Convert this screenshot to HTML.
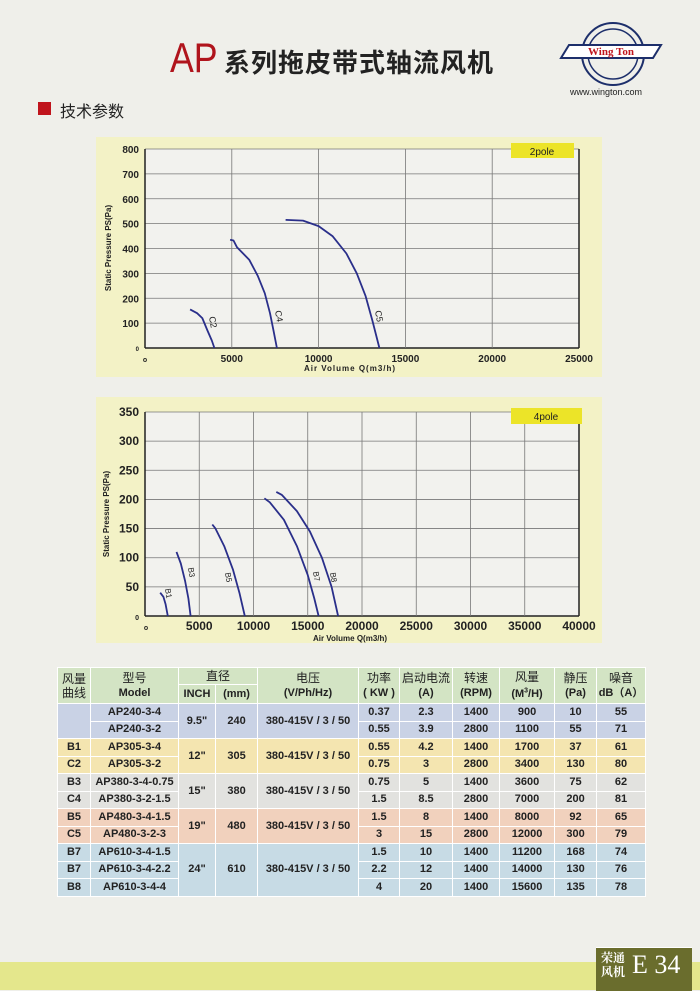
<!DOCTYPE html>
<html><head><meta charset="utf-8"><style>
body{margin:0;width:700px;height:990px;background:#efefea;position:relative;overflow:hidden;font-family:"Liberation Sans","Noto Sans CJK SC",sans-serif}
.abs{position:absolute}
table{border-collapse:collapse;position:absolute;left:57px;top:667px;width:588px;table-layout:fixed;font-family:"Liberation Sans","Noto Sans CJK SC",sans-serif}
td{border:1px solid #fff;text-align:center;font-size:11px;font-weight:bold;color:#222;padding:0;height:16.5px;line-height:11px}
.h td{background:#d3e4c4;font-weight:normal;font-size:12px}
.h td b{font-size:11px}
.g1 td{background:#c9d2e5}.g2 td{background:#f4e5b0}.g3 td{background:#e2e2df}.g4 td{background:#f1d1bd}.g5 td{background:#c7dbe5}
</style></head><body>
<div class="abs" style="left:170px;top:36px;font-size:42px;color:#b0141c;line-height:44px;transform:scaleX(0.85);transform-origin:left">AP</div>
<div class="abs" style="left:224px;top:48px;font-size:26px;font-weight:bold;color:#222;line-height:30px;letter-spacing:1px">系列拖皮带式轴流风机</div>
<svg class="abs" style="left:555px;top:20px" width="110" height="68">
<circle cx="58" cy="34" r="31" fill="none" stroke="#1d2f6b" stroke-width="2"/>
<circle cx="58" cy="34" r="25" fill="none" stroke="#1d2f6b" stroke-width="1.5"/>
<polygon points="6,38 14,25 106,25 98,38" fill="#fff" stroke="#1d2f6b" stroke-width="2"/>
<text x="56" y="35" font-size="11" font-weight="bold" fill="#c0141c" text-anchor="middle" font-family="Liberation Serif">Wing Ton</text></svg>
<div class="abs" style="left:570px;top:87px;font-size:9px;color:#222">www.wington.com</div>
<div class="abs" style="left:38px;top:102px;width:13px;height:13px;background:#c0141c"></div>
<div class="abs" style="left:60px;top:98px;font-size:16px;color:#222">技术参数</div>

<svg class="abs" style="left:0;top:0" width="700" height="660" font-family="Liberation Sans" id="ch">
<rect x="96" y="137" width="506" height="240" fill="#f3f2c6"/>
<rect x="96" y="397" width="506" height="246" fill="#f3f2c6"/>
<rect x="145" y="149" width="434" height="199" fill="#f2f2ee"/>
<rect x="145" y="412" width="434" height="204" fill="#f2f2ee"/>
<g id="g"></g>
<rect x="511" y="143" width="63" height="15" fill="#ece428"/>
<text x="542" y="155" font-size="10" text-anchor="middle" fill="#222">2pole</text>
<rect x="511" y="408" width="71" height="16" fill="#ece428"/>
<text x="546" y="420" font-size="10" text-anchor="middle" fill="#222">4pole</text>
<text transform="translate(111,248) rotate(-90)" font-size="8" font-weight="bold" text-anchor="middle" fill="#222">Static Pressure PS(Pa)</text>
<text transform="translate(109,514) rotate(-90)" font-size="8" font-weight="bold" text-anchor="middle" fill="#222">Static Pressure PS(Pa)</text>
<text x="350" y="371" font-size="8" font-weight="bold" text-anchor="middle" fill="#222" letter-spacing="1">Air Volume Q(m3/h)</text>
<text x="350" y="641" font-size="8" font-weight="bold" text-anchor="middle" fill="#222">Air Volume Q(m3/h)</text>
</svg>
<script>
var g=document.getElementById('g'),s='';
function L(x1,y1,x2,y2,c,w){s+='<line x1="'+x1+'" y1="'+y1+'" x2="'+x2+'" y2="'+y2+'" stroke="'+c+'" stroke-width="'+w+'"/>';}
function T(x,y,t,sz,a){s+='<text x="'+x+'" y="'+y+'" font-size="'+sz+'" font-weight="bold" text-anchor="'+a+'" fill="#222">'+t+'</text>';}
// chart1
for(var i=0;i<=8;i++){var y=348-i*199/8;L(145,y,579,y,i==0?'#222':'#777',i==0?1.5:0.8);T(139,y+4,i==0?'':i*100,i==0?7:10,'end');}
T(139,351,'0',6,'end');
for(var i=0;i<=5;i++){var x=145+i*434/5;L(x,149,x,348,i==0||i==5?'#222':'#777',i==0||i==5?1.5:0.8);T(x+(i==0?0:0),362,i==0?'o':i*5000,i==0?7:10,'middle');}
// chart2
for(var i=0;i<=7;i++){var y=616-i*204/7;L(145,y,579,y,i==0?'#222':'#777',i==0?1.5:0.8);T(139,y+4,i==0?'0':i*50,i==0?7:12,'end');}
for(var i=0;i<=8;i++){var x=145+i*434/8;L(x,412,x,616,i==0||i==8?'#222':'#777',i==0||i==8?1.5:0.8);if(i>0)T(x,630,i*5000,12,'middle');}
T(146,630,'o',7,'middle');
function P(pts,X,Y){var d='';pts.forEach(function(p,k){d+=(k?'L':'M')+X(p[0]).toFixed(1)+','+Y(p[1]).toFixed(1);});s+='<path d="'+d+'" fill="none" stroke="#2a2f8a" stroke-width="1.8" stroke-linejoin="round"/>';}
var X1=function(x){return 145+x*434/25000},Y1=function(y){return 348-y*199/800};
var X2=function(x){return 145+x*434/40000},Y2=function(y){return 616-y*204/350};
P([[2600,155],[3000,140],[3300,120],[3600,70],[3850,30],[4000,0]],X1,Y1);
P([[4900,435],[5100,432],[5300,405],[6000,355],[6500,290],[6900,220],[7200,140],[7400,70],[7600,0]],X1,Y1);
P([[8100,515],[9100,512],[10000,490],[10800,450],[11600,380],[12200,300],[12700,210],[13100,110],[13500,0]],X1,Y1);
P([[1400,40],[1700,33],[1900,20],[2100,0]],X2,Y2);
P([[2900,110],[3300,90],[3700,60],[4000,30],[4200,0]],X2,Y2);
P([[6200,157],[6500,150],[7300,120],[8100,80],[8700,40],[9200,0]],X2,Y2);
P([[11000,202],[11500,195],[12800,165],[14000,120],[15000,70],[15600,30],[16000,0]],X2,Y2);
P([[12100,213],[12600,208],[14000,180],[15200,145],[16300,100],[17200,50],[17800,0]],X2,Y2);
function R(x,y,t,sz){s+='<text transform="translate('+x+','+y+') rotate(80)" font-size="'+sz+'" fill="#222">'+t+'</text>';}
R(209,317,'C2',9);R(275,311,'C4',9);R(375,311,'C5',9);
R(165,589,'B1',8);R(188,568,'B3',8);R(225,573,'B5',8);R(313,572,'B7',8);R(330,573,'B8',8);
g.innerHTML=s;
</script>

<table>
<colgroup><col style="width:33px"><col style="width:88px"><col style="width:37px"><col style="width:42px"><col style="width:101px"><col style="width:41px"><col style="width:53px"><col style="width:47px"><col style="width:55px"><col style="width:42px"><col style="width:49px"></colgroup>
<tr class="h"><td rowspan="2" style="height:35px;line-height:14px">风量<br>曲线</td><td rowspan="2" style="line-height:14px">型号<br><b>Model</b></td><td colspan="2" style="height:16px">直径</td><td rowspan="2" style="line-height:14px">电压<br><b>(V/Ph/Hz)</b></td><td rowspan="2" style="line-height:14px">功率<br><b>( KW )</b></td><td rowspan="2" style="line-height:14px">启动电流<br><b>(A)</b></td><td rowspan="2" style="line-height:14px">转速<br><b>(RPM)</b></td><td rowspan="2" style="line-height:14px">风量<br><b>(M<sup style="font-size:7px">3</sup>/H)</b></td><td rowspan="2" style="line-height:14px">静压<br><b>(Pa)</b></td><td rowspan="2" style="line-height:14px">噪音<br><b>dB（A）</b></td></tr>
<tr class="h"><td style="height:17px"><b>INCH</b></td><td><b>(mm)</b></td></tr>
<tr class="g1"><td rowspan="2"></td><td>AP240-3-4</td><td rowspan="2">9.5"</td><td rowspan="2">240</td><td rowspan="2">380-415V / 3 / 50</td><td>0.37</td><td>2.3</td><td>1400</td><td>900</td><td>10</td><td>55</td></tr>
<tr class="g1"><td>AP240-3-2</td><td>0.55</td><td>3.9</td><td>2800</td><td>1100</td><td>55</td><td>71</td></tr>
<tr class="g2"><td>B1</td><td>AP305-3-4</td><td rowspan="2">12"</td><td rowspan="2">305</td><td rowspan="2">380-415V / 3 / 50</td><td>0.55</td><td>4.2</td><td>1400</td><td>1700</td><td>37</td><td>61</td></tr>
<tr class="g2"><td>C2</td><td>AP305-3-2</td><td>0.75</td><td>3</td><td>2800</td><td>3400</td><td>130</td><td>80</td></tr>
<tr class="g3"><td>B3</td><td>AP380-3-4-0.75</td><td rowspan="2">15"</td><td rowspan="2">380</td><td rowspan="2">380-415V / 3 / 50</td><td>0.75</td><td>5</td><td>1400</td><td>3600</td><td>75</td><td>62</td></tr>
<tr class="g3"><td>C4</td><td>AP380-3-2-1.5</td><td>1.5</td><td>8.5</td><td>2800</td><td>7000</td><td>200</td><td>81</td></tr>
<tr class="g4"><td>B5</td><td>AP480-3-4-1.5</td><td rowspan="2">19"</td><td rowspan="2">480</td><td rowspan="2">380-415V / 3 / 50</td><td>1.5</td><td>8</td><td>1400</td><td>8000</td><td>92</td><td>65</td></tr>
<tr class="g4"><td>C5</td><td>AP480-3-2-3</td><td>3</td><td>15</td><td>2800</td><td>12000</td><td>300</td><td>79</td></tr>
<tr class="g5"><td>B7</td><td>AP610-3-4-1.5</td><td rowspan="3">24"</td><td rowspan="3">610</td><td rowspan="3">380-415V / 3 / 50</td><td>1.5</td><td>10</td><td>1400</td><td>11200</td><td>168</td><td>74</td></tr>
<tr class="g5"><td>B7</td><td>AP610-3-4-2.2</td><td>2.2</td><td>12</td><td>1400</td><td>14000</td><td>130</td><td>76</td></tr>
<tr class="g5"><td>B8</td><td>AP610-3-4-4</td><td>4</td><td>20</td><td>1400</td><td>15600</td><td>135</td><td>78</td></tr>
</table>

<div class="abs" style="left:0;top:962px;width:700px;height:28px;background:#e4e78c"></div>
<div class="abs" style="left:596px;top:947px;width:96px;height:43px;background:#6a6d2d;border-top:1px solid #fff"></div>
<div class="abs" style="left:601px;top:951px;font-size:12px;line-height:14px;color:#fff;font-family:'Noto Serif CJK SC',serif;font-weight:bold">荣通<br>风机</div>
<div class="abs" style="left:632px;top:950px;font-size:26px;line-height:30px;color:#fff;font-family:'Liberation Serif',serif">E 34</div>
</body></html>
